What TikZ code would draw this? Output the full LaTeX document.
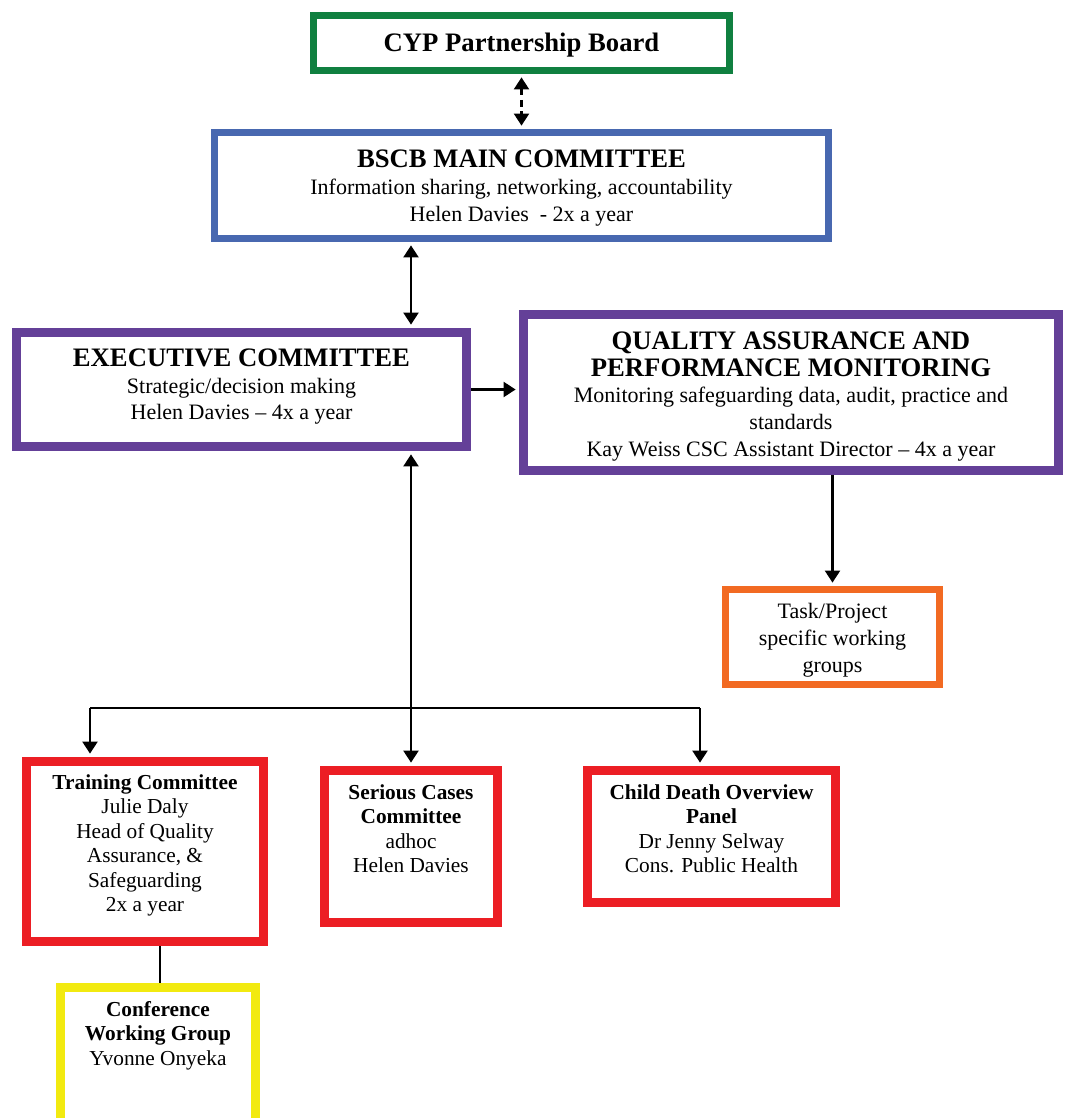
\documentclass[tikz,border=0pt]{standalone}
\usepackage{fontspec}
\setmainfont{Liberation Serif}
\usetikzlibrary{arrows.meta,fit}
\definecolor{cgreen}{RGB}{16,128,64}
\definecolor{cblue}{RGB}{72,104,176}
\definecolor{cpurple}{RGB}{100,64,152}
\definecolor{corange}{RGB}{242,106,34}
\definecolor{cred}{RGB}{236,30,36}
\definecolor{cyellow}{RGB}{242,234,16}
\newcommand{\myhd}{\fontsize{20}{24}\selectfont\bfseries}
\newcommand{\mybd}{\fontsize{16.5}{20}\selectfont}
\newcommand{\mysm}{\fontsize{16}{18.4}\selectfont}
\tikzset{
  box/.style={draw=#1, fill=white, inner sep=0pt},
  thinbox/.style={line width=5.25pt},
  thickbox/.style={line width=6.75pt},
  conn/.style={line width=2.2pt, draw=black},
  tipend/.style={-{Triangle[width=11pt,length=9pt]}, shorten >=2.5pt},
  tipboth/.style={{Triangle[width=11pt,length=9pt]}-{Triangle[width=11pt,length=9pt]}, shorten >=2.5pt, shorten <=2.5pt},
  txt/.style={align=center, inner sep=0pt, font=\mybd},
  smtxt/.style={align=center, inner sep=0pt, anchor=north, font=\mysm},
}
\begin{document}
\begin{tikzpicture}[x=0.75pt,y=-0.75pt]
\clip (0,0) rectangle (1067,1118);
\fill[white] (0,0) rectangle (1067,1118);

% boxes
\node[box=cgreen, thinbox, fit={(313.5,15.5) (729.5,70.5)}] (cyp) {};
\node[box=cblue, thinbox, fit={(214.5,132.5) (828.5,238.5)}] (bscb) {};
\node[box=cpurple, thickbox, fit={(16.5,332.5) (466.5,446.5)}] (exec) {};
\node[box=cpurple, thickbox, fit={(523.5,314.5) (1058.5,470.5)}] (qa) {};
\node[box=corange, thinbox, fit={(725.5,589.5) (939.5,684.5)}] (task) {};
\node[box=cred, thickbox, fit={(26.5,761.5) (263.5,941.5)}] (train) {};
\node[box=cred, thickbox, fit={(324.5,770.5) (497.5,922.5)}] (serious) {};
\node[box=cred, thickbox, fit={(587.5,770.5) (835.5,902.5)}] (child) {};
\node[box=cyellow, thickbox, fit={(60.5,987.5) (255.5,1150)}] (conf) {};

% texts
\node[txt, font=\myhd] (cyptxt) at ([yshift=-1.5pt]cyp.center) {CYP Partnership Board};
\node[txt] (bscbtxt) at ([yshift=-2pt]bscb.center) {{\myhd BSCB MAIN COMMITTEE}\\Information sharing, networking, accountability\\Helen Davies\ \ - 2x a year};
\node[txt] (exectxt) at ([yshift=2pt]exec.center) {{\myhd EXECUTIVE COMMITTEE}\\Strategic/decision making\\Helen Davies -- 4x a year};
\node[txt] (qatxt) at ([yshift=-3pt]qa.center) {{\myhd QUALITY ASSURANCE AND}\\{\myhd PERFORMANCE MONITORING}\\Monitoring safeguarding data, audit, practice and\\standards\\Kay Weiss CSC Assistant Director -- 4x a year};
\node[txt] (tasktxt) at ([yshift=-2.5pt]task.center) {Task/Project\\specific working\\groups};
\node[smtxt] (traintxt) at (145,774) {\textbf{Training Committee}\\Julie Daly\\Head of Quality\\Assurance, \&\\Safeguarding\\2x a year};
\node[smtxt] (serioustxt) at (411,784) {\textbf{Serious Cases}\\\textbf{Committee}\\adhoc\\Helen Davies};
\node[smtxt] (childtxt) at (711.5,784) {\textbf{Child Death Overview}\\\textbf{Panel}\\Dr Jenny Selway\\Cons. Public Health};
\node[smtxt] (conftxt) at (158,1001) {\textbf{Conference}\\\textbf{Working Group}\\Yvonne Onyeka};

% connectors
\coordinate (vx) at (411,0);
\coordinate (busl) at (90,708);
\coordinate (busr) at (700,708);
\coordinate (cx) at (160,0);
\draw[conn, tipboth, dash pattern=on 5pt off 3.5pt] (cyp.south) -- (bscb.north);
\draw[conn, tipboth] (bscb.south -| vx) -- (exec.north -| vx);
\draw[conn, tipend] (exec.east) -- (exec.east -| qa.west);
\draw[conn, tipend] (qa.south -| task.north) -- (task.north);
\draw[conn, tipboth] (exec.south -| serious.north) -- (serious.north);
\draw[conn] (busl) -- (busr);
\draw[conn, tipend] (busl) -- (train.north -| busl);
\draw[conn, tipend] (busr) -- (child.north -| busr);
\draw[conn] (train.south -| cx) -- (conf.north -| cx);
\end{tikzpicture}
\end{document}
